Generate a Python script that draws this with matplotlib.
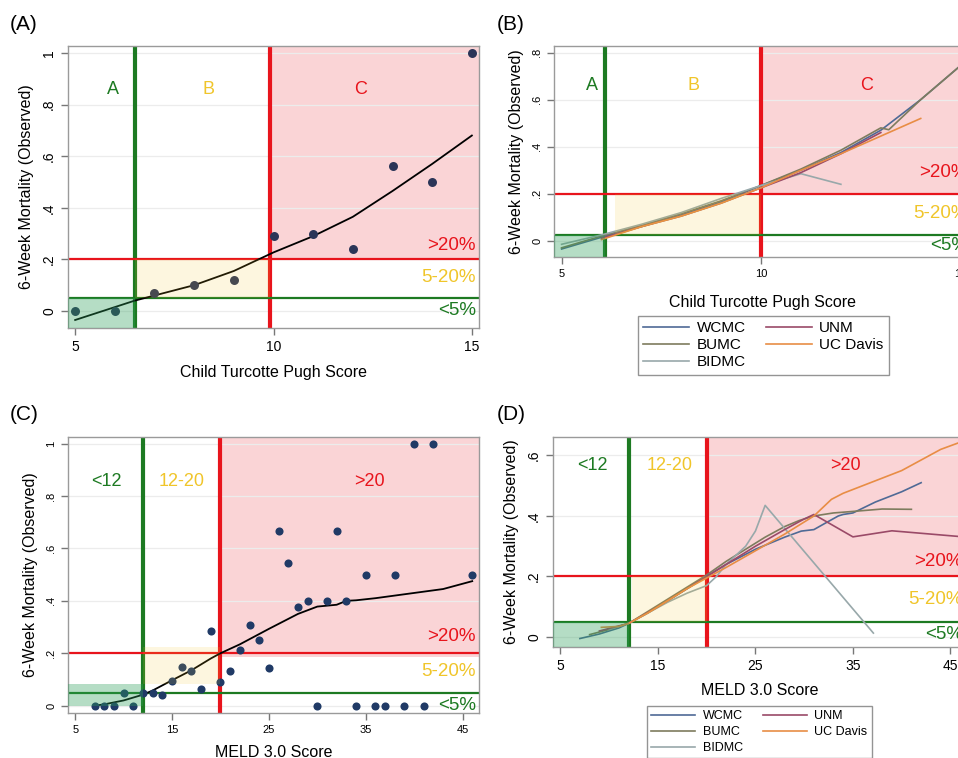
import numpy as np
import matplotlib
matplotlib.use('Agg')
import matplotlib.pyplot as plt

plt.rcParams['font.family'] = ['Liberation Sans', 'DejaVu Sans']

# Panel A - observed mortality by CTP score
ctp_score = [5, 6, 7, 8, 9, 10, 11, 12, 13, 14, 15]
ctp_mort = [0, 0, 0.07, 0.1, 0.12, 0.29, 0.3, 0.24, 0.56, 0.5, 1.0]
ctp_fit_x = [5, 6, 6.5, 7, 8, 9, 10, 11, 12, 13, 14, 15]
ctp_fit_y = [-0.035, 0.015, 0.04, 0.06, 0.1, 0.155, 0.227, 0.29, 0.365, 0.465, 0.57, 0.68]

# Panel B - smoothed curves by site
sites = ['WCMC', 'BUMC', 'BIDMC', 'UNM', 'UC Davis']
site_colors = ['#4f6a96', '#7e7c5e', '#98a8aa', '#9a4a68', '#e88d45']
ctp_site_x = [
    [5, 6, 7, 8, 9, 10, 11, 12, 13, 14, 15],
    [5, 6, 7, 8, 9, 10, 11, 12, 13, 13.2, 14, 15],
    [5, 6, 7, 8, 9, 10, 11, 12],
    [6, 7, 8, 9, 10, 11, 12, 13],
    [6, 7, 8, 9, 10, 11, 12, 13, 14],
]
ctp_site_y = [
    [-0.035, 0.015, 0.06, 0.11, 0.165, 0.235, 0.3, 0.375, 0.47, 0.6, 0.745],
    [-0.03, 0.02, 0.065, 0.115, 0.17, 0.235, 0.305, 0.385, 0.48, 0.472, 0.6, 0.745],
    [-0.015, 0.025, 0.07, 0.12, 0.18, 0.235, 0.285, 0.24],
    [0.01, 0.06, 0.105, 0.16, 0.225, 0.29, 0.37, 0.46],
    [0.005, 0.06, 0.105, 0.16, 0.225, 0.3, 0.37, 0.445, 0.52],
]

# Panel C - observed mortality by MELD 3.0
meld_score = [7, 8, 9, 10, 11, 12, 13, 14, 15, 16, 17, 18, 19, 20, 21, 22, 23, 24, 25,
              26, 27, 28, 29, 30, 31, 32, 33, 34, 35, 36, 37, 38, 39, 40, 41, 42, 46]
meld_mort = [0, 0, 0, 0.05, 0, 0.05, 0.05, 0.042, 0.094, 0.148, 0.132, 0.062, 0.286, 0.09,
             0.132, 0.214, 0.308, 0.25, 0.144, 0.667, 0.546, 0.375, 0.4, 0, 0.4, 0.667, 0.4,
             0, 0.5, 0, 0, 0.5, 0, 1.0, 0, 1.0, 0.5]
meld_fit_x = [7, 8, 10, 12, 13, 15, 17, 19, 20, 22, 25, 28, 30, 32, 33, 34, 36, 40, 43, 46]
meld_fit_y = [0.0, 0.005, 0.02, 0.042, 0.058, 0.097, 0.135, 0.18, 0.2, 0.234, 0.293, 0.35,
              0.378, 0.385, 0.4, 0.402, 0.41, 0.43, 0.445, 0.475]

# Panel D - smoothed curves by site
meld_site_x = [
    [7, 9, 11, 12, 14, 16, 18, 20, 22, 25, 28, 29.7, 31, 32.1, 33.5, 34, 35, 37.3, 40, 42],
    [8, 10, 12, 14, 16, 18, 20, 22, 24, 26, 28, 29.5, 31, 33, 35, 38, 41],
    [10, 12, 14, 16, 18, 20, 21, 22, 24, 25, 26, 37.1],
    [9, 12, 15, 18, 20, 22, 25, 28, 30, 31, 35, 39, 46.7],
    [9.2, 11, 12, 14, 16, 18, 20, 22, 25, 28, 30, 31, 32.8, 34, 36, 38, 40, 42, 44, 46.7],
]
meld_site_y = [
    [-0.005, 0.01, 0.03, 0.045, 0.08, 0.12, 0.16, 0.2, 0.24, 0.29, 0.33, 0.35, 0.355, 0.375,
     0.4, 0.405, 0.41, 0.446, 0.48, 0.51],
    [0.008, 0.025, 0.045, 0.085, 0.125, 0.165, 0.205, 0.25, 0.29, 0.33, 0.365, 0.385, 0.4,
     0.41, 0.415, 0.423, 0.422],
    [0.025, 0.045, 0.08, 0.115, 0.145, 0.17, 0.2, 0.24, 0.3, 0.35, 0.435, 0.013],
    [0.02, 0.045, 0.1, 0.16, 0.2, 0.24, 0.3, 0.355, 0.39, 0.405, 0.331, 0.351, 0.33],
    [0.032, 0.035, 0.045, 0.08, 0.12, 0.16, 0.195, 0.23, 0.285, 0.34, 0.38, 0.4, 0.455,
     0.475, 0.5, 0.525, 0.55, 0.585, 0.62, 0.652],
]

GREEN = '#1d7a22'
GOLD = '#f0c52a'
RED = '#e8141c'


def yfmt(v):
    if abs(v) < 1e-9:
        return '0'
    if abs(v - 1) < 1e-9:
        return '1'
    return ('%.1f' % v).lstrip('0')


def panel(ax, xlim, ylim, xticks, yticks, v1, v2, h1, h2, shade, zone_names, zone_y,
          pct_y, tick_fs, label_fs, xlabel, xpad=6):
    ax.set_xlim(xlim)
    ax.set_ylim(ylim)
    ax.set_xticks(xticks)
    ax.set_yticks(yticks)
    ax.set_yticklabels([yfmt(t) for t in yticks], rotation=90, va='center')
    ax.tick_params(colors='#777777', labelcolor='black', labelsize=tick_fs, length=5, width=1)
    for s in ax.spines.values():
        s.set_color('#9a9a9a')
        s.set_linewidth(1)
    for t in yticks:
        ax.axhline(t, color='#ececec', lw=0.9, zorder=0.5)
    # shaded zones
    (g0, g1), (y0, y1), (r0, r1), yx0 = shade
    ax.fill_between([xlim[0], v1], g0, g1, color='#2ca05a', alpha=0.35, lw=0, zorder=5)
    ax.fill_between([yx0, v2], y0, y1, color='#f2c623', alpha=0.14, lw=0, zorder=5)
    ax.fill_between([v2, xlim[1]], r0, r1, color=RED, alpha=0.18, lw=0, zorder=0.3)
    # thresholds
    ax.axvline(v1, color=GREEN, lw=3, zorder=2)
    ax.axvline(v2, color=RED, lw=3, zorder=2)
    ax.axhline(h2, color=RED, lw=1.6, zorder=2)
    ax.axhline(h1, color=GREEN, lw=1.6, zorder=2)
    # zone labels
    xa, xb, xc = zone_names[1]
    ax.text(xa, zone_y, zone_names[0][0], color=GREEN, fontsize=13, ha='center', va='center', zorder=7)
    ax.text(xb, zone_y, zone_names[0][1], color=GOLD, fontsize=13, ha='center', va='center', zorder=7)
    ax.text(xc, zone_y, zone_names[0][2], color=RED, fontsize=13, ha='center', va='center', zorder=7)
    xr = xlim[1] - 0.008 * (xlim[1] - xlim[0])
    ax.text(xr, pct_y[0], '>20%', color=RED, fontsize=13.5, ha='right', va='center', zorder=7)
    ax.text(xr, pct_y[1], '5-20%', color=GOLD, fontsize=13.5, ha='right', va='center', zorder=7)
    ax.text(xr, pct_y[2], '<5%', color=GREEN, fontsize=13.5, ha='right', va='center', zorder=7)
    ax.set_xlabel(xlabel, fontsize=label_fs, labelpad=xpad)
    ax.set_ylabel('6-Week Mortality (Observed)', fontsize=label_fs, labelpad=6)


fig = plt.figure(figsize=(9.58, 7.58), dpi=100)
W, H = 958.0, 758.0

# (A)
axA = fig.add_axes([68 / W, 1 - 328 / H, 411 / W, 282 / H])
panel(axA, (4.82, 15.18), (-0.066, 1.027), [5, 10, 15], [0, 0.2, 0.4, 0.6, 0.8, 1],
      6.5, 9.9, 0.05, 0.2,
      ((-0.066, 0.05), (0.05, 0.2), (0.2, 1.027), 6.5),
      (('A', 'B', 'C'), (5.95, 8.35, 12.2)), 0.86, (0.255, 0.13, 0.0),
      10, 11.5, 'Child Turcotte Pugh Score', xpad=8)
axA.scatter(ctp_score, ctp_mort, s=42, color='#2b3558', zorder=4, lw=0)
axA.plot(ctp_fit_x, ctp_fit_y, color='black', lw=1.3, zorder=3)

# (B)
axB = fig.add_axes([554 / W, 1 - 257 / H, 417 / W, 211 / H])
panel(axB, (4.81, 15.26), (-0.069, 0.828), [5, 10, 15], [0, 0.2, 0.4, 0.6, 0.8],
      6.08, 10, 0.025, 0.2,
      ((-0.069, 0.025), (0.025, 0.2), (0.2, 0.828), 6.35),
      (('A', 'B', 'C'), (5.75, 8.3, 12.65)), 0.66, (0.29, 0.115, -0.02),
      8, 11.5, 'Child Turcotte Pugh Score', xpad=12)
for name, col, xs, ys in zip(sites, site_colors, ctp_site_x, ctp_site_y):
    axB.plot(xs, ys, color=col, lw=1.2, label=name, zorder=3)
axB.legend(loc='upper left', bbox_to_anchor=(638 / W, 1 - 316 / H), bbox_transform=fig.transFigure,
           ncol=2, fontsize=11, frameon=True, fancybox=False, edgecolor='#7a7a7a',
           borderaxespad=0, handlelength=3.0, columnspacing=1.3, labelspacing=0.2,
           borderpad=0.35, handletextpad=0.5)

# (C)
axC = fig.add_axes([68 / W, 45 / H, 411 / W, 276 / H])
panel(axC, (4.25, 46.7), (-0.028, 1.025), [5, 15, 25, 35, 45], [0, 0.2, 0.4, 0.6, 0.8, 1],
      12, 20, 0.05, 0.2,
      ((0.0, 0.081), (0.081, 0.224), (0.186, 1.025), 12),
      (('<12', '12-20', '>20'), (8.2, 16.0, 35.4)), 0.855, (0.265, 0.13, 0.0),
      8, 11.5, 'MELD 3.0 Score', xpad=7)
axC.scatter(meld_score, meld_mort, s=34, color='#203a66', zorder=4, lw=0)
axC.plot(meld_fit_x, meld_fit_y, color='black', lw=1.3, zorder=3)

# (D)
axD = fig.add_axes([553 / W, 111 / H, 413 / W, 210 / H])
panel(axD, (4.24, 46.6), (-0.033, 0.661), [5, 15, 25, 35, 45], [0, 0.2, 0.4, 0.6],
      12.05, 20.05, 0.05, 0.2,
      ((-0.033, 0.05), (0.05, 0.2), (0.2, 0.661), 12.3),
      (('<12', '12-20', '>20'), (8.3, 16.2, 34.2)), 0.567, (0.249, 0.123, 0.008),
      10, 11.5, 'MELD 3.0 Score', xpad=7)
for name, col, xs, ys in zip(sites, site_colors, meld_site_x, meld_site_y):
    axD.plot(xs, ys, color=col, lw=1.2, label=name, zorder=3)
axD.legend(loc='upper left', bbox_to_anchor=(647 / W, 1 - 706 / H), bbox_transform=fig.transFigure,
           ncol=2, fontsize=9, frameon=True, fancybox=False, edgecolor='#7a7a7a',
           borderaxespad=0, handlelength=3.5, columnspacing=1.6, labelspacing=0.3,
           borderpad=0.35, handletextpad=0.6)

fig.text(10 / W, 1 - 24 / H, '(A)', fontsize=15, va='center', ha='left')
fig.text(497 / W, 1 - 24 / H, '(B)', fontsize=15, va='center', ha='left')
fig.text(10 / W, 1 - 415 / H, '(C)', fontsize=15, va='center', ha='left')
fig.text(497 / W, 1 - 415 / H, '(D)', fontsize=15, va='center', ha='left')

fig.savefig('out.png', dpi=100)
